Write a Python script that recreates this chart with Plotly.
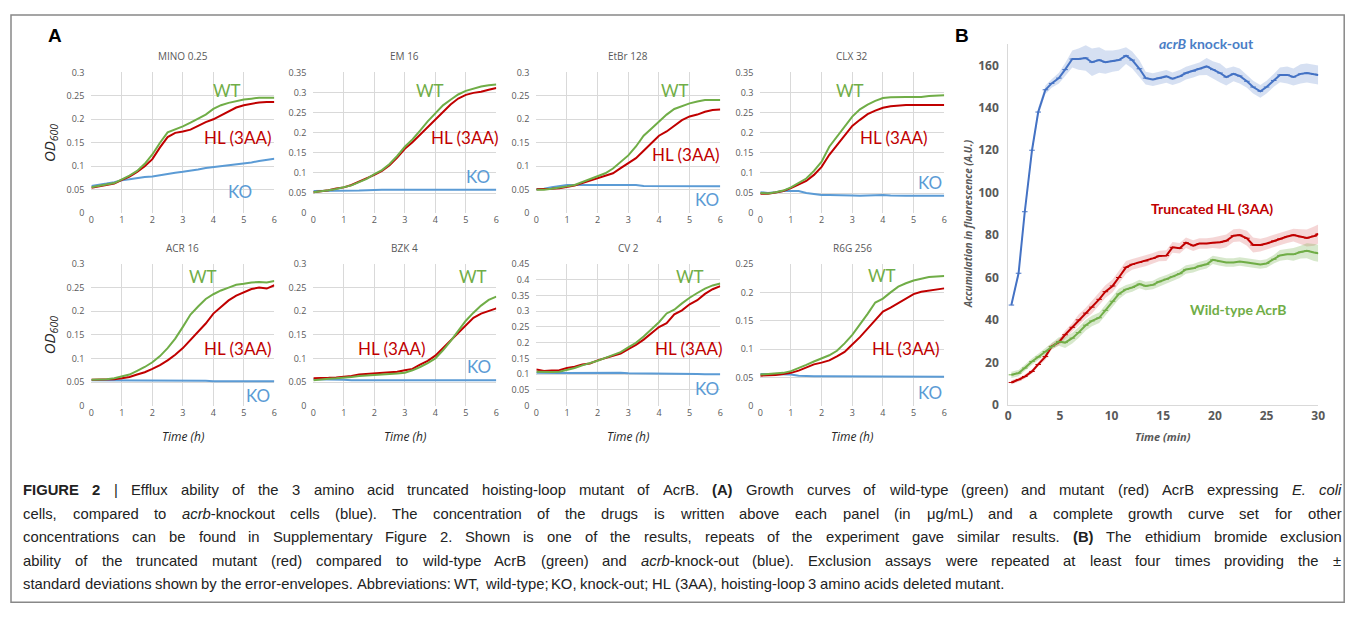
import plotly.graph_objects as go

# ---------------- Panel A data ----------------
hours = [0, 0.25, 0.5, 0.75, 1, 1.25, 1.5, 1.75, 2, 2.25, 2.5, 2.75, 3,
         3.25, 3.5, 3.75, 4, 4.25, 4.5, 4.75, 5, 5.25, 5.5, 5.75, 6]

drug_titles = ["MINO 0.25", "EM 16", "EtBr 128", "CLX 32",
               "ACR 16", "BZK 4", "CV 2", "R6G 256"]
y_max = [0.3, 0.35, 0.3, 0.35, 0.3, 0.3, 0.45, 0.25]

wt_mino = [0.055, 0.058, 0.061, 0.064, 0.072, 0.080, 0.090, 0.105, 0.125, 0.150, 0.172, 0.178, 0.185,
           0.193, 0.201, 0.210, 0.222, 0.230, 0.235, 0.239, 0.242, 0.244, 0.246, 0.246, 0.246]
hl_mino = [0.054, 0.057, 0.060, 0.063, 0.071, 0.078, 0.088, 0.100, 0.115, 0.140, 0.162, 0.171, 0.174,
           0.178, 0.186, 0.194, 0.200, 0.208, 0.217, 0.225, 0.230, 0.233, 0.236, 0.237, 0.237]
ko_mino = [0.058, 0.060, 0.063, 0.066, 0.070, 0.072, 0.075, 0.077, 0.078, 0.081, 0.084, 0.086, 0.088,
           0.090, 0.093, 0.096, 0.098, 0.100, 0.102, 0.103, 0.105, 0.108, 0.111, 0.114, 0.116]

wt_em = [0.052, 0.054, 0.057, 0.060, 0.064, 0.069, 0.077, 0.085, 0.097, 0.107, 0.122, 0.142, 0.165,
         0.183, 0.205, 0.228, 0.248, 0.268, 0.282, 0.295, 0.304, 0.310, 0.315, 0.318, 0.320]
hl_em = [0.052, 0.054, 0.057, 0.061, 0.064, 0.070, 0.078, 0.085, 0.095, 0.105, 0.119, 0.138, 0.160,
         0.176, 0.195, 0.215, 0.233, 0.252, 0.270, 0.285, 0.294, 0.299, 0.302, 0.307, 0.311]
ko_em = [0.055, 0.055, 0.056, 0.056, 0.056, 0.056, 0.056, 0.057, 0.058, 0.058, 0.058, 0.058, 0.058,
         0.058, 0.058, 0.058, 0.058, 0.058, 0.058, 0.058, 0.058, 0.058, 0.058, 0.058, 0.058]

wt_etbr = [0.050, 0.050, 0.052, 0.054, 0.057, 0.060, 0.066, 0.072, 0.078, 0.085, 0.095, 0.108, 0.123,
           0.142, 0.165, 0.180, 0.195, 0.210, 0.222, 0.228, 0.234, 0.238, 0.241, 0.241, 0.241]
hl_etbr = [0.051, 0.051, 0.052, 0.053, 0.056, 0.059, 0.064, 0.069, 0.074, 0.079, 0.085, 0.096, 0.107,
           0.117, 0.133, 0.150, 0.165, 0.174, 0.186, 0.198, 0.206, 0.210, 0.216, 0.220, 0.221]
ko_etbr = [0.051, 0.052, 0.055, 0.058, 0.060, 0.060, 0.060, 0.060, 0.060, 0.060, 0.060, 0.060, 0.060,
           0.060, 0.058, 0.058, 0.058, 0.058, 0.058, 0.058, 0.058, 0.057, 0.057, 0.057, 0.057]

wt_clx = [0.050, 0.049, 0.052, 0.056, 0.064, 0.074, 0.086, 0.105, 0.128, 0.165, 0.190, 0.218, 0.240,
          0.258, 0.270, 0.279, 0.286, 0.288, 0.289, 0.289, 0.289, 0.289, 0.291, 0.292, 0.293]
hl_clx = [0.048, 0.048, 0.051, 0.055, 0.062, 0.070, 0.080, 0.095, 0.115, 0.145, 0.170, 0.192, 0.217,
          0.232, 0.246, 0.255, 0.262, 0.266, 0.268, 0.269, 0.269, 0.269, 0.269, 0.269, 0.269]
ko_clx = [0.052, 0.050, 0.052, 0.055, 0.055, 0.055, 0.050, 0.047, 0.045, 0.045, 0.045, 0.045, 0.044,
          0.043, 0.044, 0.045, 0.045, 0.044, 0.043, 0.043, 0.043, 0.043, 0.043, 0.043, 0.043]

wt_acr = [0.055, 0.055, 0.056, 0.058, 0.062, 0.066, 0.074, 0.082, 0.092, 0.105, 0.122, 0.142, 0.167,
          0.193, 0.210, 0.226, 0.236, 0.244, 0.250, 0.256, 0.258, 0.261, 0.262, 0.261, 0.264]
hl_acr = [0.055, 0.055, 0.055, 0.056, 0.058, 0.061, 0.066, 0.071, 0.078, 0.086, 0.096, 0.108, 0.122,
          0.139, 0.155, 0.174, 0.195, 0.210, 0.223, 0.233, 0.240, 0.247, 0.250, 0.248, 0.255]
ko_acr = [0.054, 0.054, 0.054, 0.053, 0.053, 0.053, 0.053, 0.053, 0.053, 0.053, 0.053, 0.053, 0.053,
          0.053, 0.053, 0.053, 0.052, 0.052, 0.052, 0.052, 0.052, 0.052, 0.052, 0.052, 0.052]

wt_bzk = [0.054, 0.056, 0.057, 0.058, 0.059, 0.061, 0.063, 0.064, 0.065, 0.066, 0.066, 0.068, 0.070,
          0.075, 0.082, 0.090, 0.100, 0.117, 0.137, 0.158, 0.180, 0.197, 0.212, 0.224, 0.231]
hl_bzk = [0.058, 0.058, 0.059, 0.060, 0.061, 0.063, 0.066, 0.067, 0.068, 0.069, 0.070, 0.072, 0.075,
          0.078, 0.087, 0.095, 0.106, 0.122, 0.140, 0.156, 0.172, 0.186, 0.195, 0.201, 0.206]
ko_bzk = [0.056, 0.056, 0.056, 0.055, 0.055, 0.054, 0.054, 0.054, 0.054, 0.054, 0.054, 0.054, 0.054,
          0.054, 0.054, 0.054, 0.054, 0.054, 0.054, 0.054, 0.054, 0.054, 0.054, 0.054, 0.054]

wt_cv = [0.108, 0.107, 0.107, 0.108, 0.113, 0.120, 0.128, 0.135, 0.143, 0.152, 0.160, 0.170, 0.185,
         0.200, 0.220, 0.243, 0.265, 0.293, 0.305, 0.325, 0.343, 0.358, 0.372, 0.382, 0.388]
hl_cv = [0.115, 0.110, 0.112, 0.113, 0.120, 0.124, 0.131, 0.134, 0.144, 0.152, 0.158, 0.166, 0.180,
         0.193, 0.210, 0.230, 0.250, 0.262, 0.290, 0.303, 0.322, 0.335, 0.355, 0.370, 0.380]
ko_cv = [0.105, 0.104, 0.104, 0.104, 0.104, 0.104, 0.104, 0.104, 0.105, 0.106, 0.106, 0.105, 0.103,
         0.103, 0.103, 0.103, 0.103, 0.103, 0.102, 0.102, 0.102, 0.101, 0.100, 0.100, 0.100]

wt_r6g = [0.055, 0.056, 0.057, 0.058, 0.061, 0.066, 0.072, 0.078, 0.083, 0.089, 0.097, 0.110, 0.125,
          0.143, 0.162, 0.182, 0.189, 0.200, 0.210, 0.216, 0.221, 0.224, 0.227, 0.228, 0.229]
hl_r6g = [0.053, 0.053, 0.054, 0.056, 0.058, 0.062, 0.067, 0.073, 0.076, 0.080, 0.087, 0.095, 0.108,
          0.121, 0.136, 0.152, 0.166, 0.173, 0.181, 0.190, 0.197, 0.201, 0.203, 0.205, 0.207]
ko_r6g = [0.056, 0.056, 0.056, 0.055, 0.055, 0.053, 0.052, 0.052, 0.052, 0.052, 0.052, 0.052, 0.052,
          0.051, 0.051, 0.051, 0.051, 0.051, 0.051, 0.051, 0.051, 0.051, 0.051, 0.051, 0.051]

wt_all = [wt_mino, wt_em, wt_etbr, wt_clx, wt_acr, wt_bzk, wt_cv, wt_r6g]
hl_all = [hl_mino, hl_em, hl_etbr, hl_clx, hl_acr, hl_bzk, hl_cv, hl_r6g]
ko_all = [ko_mino, ko_em, ko_etbr, ko_clx, ko_acr, ko_bzk, ko_cv, ko_r6g]

# ---------------- Panel B data ----------------
minutes = [0.3, 1.0, 1.6, 2.3, 2.9, 3.6, 4.2, 4.9, 5.5, 6.2, 6.8, 7.5, 8.1, 8.8, 9.4, 10.1,
           10.7, 11.4, 12.0, 12.7, 13.3, 14.0, 14.6, 15.3, 15.9, 16.6, 17.2, 17.9, 18.5, 19.2,
           19.8, 20.5, 21.1, 21.8, 22.4, 23.1, 23.7, 24.4, 25.0, 25.7, 26.3, 27.0, 27.6, 28.3,
           28.9, 29.6, 30.0]
ko_fluo = [47, 62, 91, 120, 138, 148.5, 151.5, 154, 158, 163, 163, 163.5, 161.5, 162.5, 161.5, 162,
           162.5, 164.6, 162.5, 158.4, 154, 153.3, 154, 154.8, 153.7, 154.8, 156.4, 157.3, 158.4, 159.5,
           158, 156.4, 154.5, 156, 155, 152.5, 149.8, 147.8, 149.8, 152.9, 155.5, 155.5, 154.5, 156,
           156.4, 155.8, 155.5]
ko_sd = [1, 1.5, 2, 2, 2, 2, 2, 2.5, 3, 4, 5, 6, 6.5, 6, 5.5, 5,
         5, 4, 4, 4, 3, 3, 3, 3, 3, 3, 3, 3, 3, 4,
         4, 4.5, 4, 3.5, 3.5, 3, 3, 3, 3, 3, 3.5, 4, 4, 4.5,
         4.5, 4.5, 4.5]
hl_fluo = [10.5, 11.8, 13.3, 15.7, 19, 22.7, 27.5, 29.5, 33, 36.5, 40, 43.2, 46, 49.7, 53.3, 56,
           60, 64.8, 66.2, 67.1, 67.8, 69, 70.1, 70.3, 74.2, 73.8, 76.4, 75, 76, 76,
           76.4, 76.6, 77.3, 79.7, 80, 78.5, 75.3, 75.3, 76, 77.2, 78.2, 79.3, 80, 79.2,
           78.6, 79.5, 80.5]
hl_sd = [1, 1, 1, 1, 1, 1.5, 1.5, 1.5, 2, 2, 2.5, 2.5, 3, 3, 3, 3,
         3, 3, 2.5, 2.5, 2.5, 2.5, 2.5, 2.5, 2.5, 2.5, 2.5, 2.5, 2.5, 2.5,
         2.5, 3, 3, 3, 3, 3.5, 3.5, 3, 3, 3, 3, 3, 3, 3.5,
         4, 4.5, 4.5]
wt_fluo = [14.1, 14.9, 17.3, 20.4, 22.5, 25.1, 27.5, 29.8, 29.3, 31.4, 34, 37.5, 39.5, 41, 44.5, 48.8,
           52.2, 54.4, 55.3, 56.9, 56, 56.5, 58, 59.2, 60.4, 61.8, 63.8, 64.3, 65.4, 66.2,
           68.3, 67.5, 67.1, 67.1, 67.5, 67.1, 66.6, 66.1, 66.6, 68.6, 70.4, 70.9, 70.9, 72,
           72.6, 71.8, 71.4]
wt_sd = [1.5, 1.5, 1.5, 1.5, 1.5, 1.5, 1.5, 2, 2.5, 2.5, 2.5, 2.5, 2.5, 2.5, 2.5, 2.5,
         2.5, 2, 2, 2, 2, 2, 2, 2, 2, 2, 2, 2, 2, 2,
         2, 2, 2, 2, 2, 2, 2, 2, 2, 2, 2.5, 2.5, 3, 3,
         3.5, 4, 4]

caption_lines = [
    "<b>FIGURE 2</b> | Efflux ability of the 3 amino acid truncated hoisting-loop mutant of AcrB. "
    "<b>(A)</b> Growth curves of wild-type (green) and mutant (red) AcrB expressing <i>E. coli</i>",
    "cells, compared to <i>acrb</i>-knockout cells (blue). The concentration of the drugs is written "
    "above each panel (in μg/mL) and a complete growth curve set for other",
    "concentrations can be found in Supplementary Figure 2. Shown is one of the results, repeats of "
    "the experiment gave similar results. <b>(B)</b> The ethidium bromide exclusion",
    "ability of the truncated mutant (red) compared to wild-type AcrB (green) and <i>acrb</i>-knock-out "
    "(blue). Exclusion assays were repeated at least four times providing the ±",
    "standard deviations shown by the error-envelopes. Abbreviations: WT, wild-type; KO, knock-out; "
    "HL (3AA), hoisting-loop 3 amino acids deleted mutant.",
]

# ---------------- styling / geometry ----------------
GREEN = "#70AD47"
RED = "#C00000"
BLUE = "#5B9BD5"
BLUE_B = "#4472C4"
GRID = "#D9D9D9"
TICK = "#595959"
OFF = 8                      # html body margin
W, H = 1344, 603
# measured capture mapping (page px -> picture px): pic = S * page + B
SX, BX = 0.9927, 2.67
SY, BY = 0.977, 6.7


def px_x(p):
    page = (p - BX) / SX
    return min(max((page - OFF) / W, 0.0), 1.0)


def px_y(p):
    page = (p - BY) / SY
    return min(max(1 - (page - OFF) / H, 0.0), 1.0)


def note(text, x, y, size, color, family="Open Sans", angle=0, **kw):
    return dict(text=text, x=px_x(x), y=px_y(y), xref="paper", yref="paper",
                xanchor="center", yanchor="middle", showarrow=False, textangle=angle,
                font=dict(size=size, color=color, family=family), **kw)


x_dom_px = [(91, 274), (313, 496), (536, 720), (760, 944)]
row_dom_px = [(72, 213), (264, 406)]

# label placement per panel (data coords): WT, HL, KO
label_pos = [
    [(4.45, 0.262), (4.8, 0.162), (4.88, 0.046)],
    [(3.84, 0.305), (4.98, 0.189), (5.4, 0.092)],
    [(4.52, 0.262), (4.87, 0.124), (5.56, 0.030)],
    [(2.94, 0.305), (4.36, 0.189), (5.55, 0.076)],
    [(3.67, 0.274), (4.81, 0.121), (5.45, 0.022)],
    [(5.24, 0.274), (2.58, 0.121), (5.42, 0.082)],
    [(5.0, 0.410), (4.98, 0.182), (5.56, 0.054)],
    [(3.98, 0.229), (4.74, 0.101), (5.53, 0.023)],
]

fig = go.Figure()
layout = {}
annotations = []

for i in range(8):
    n = i + 1
    r, c = divmod(i, 4)
    xs = "x" if n == 1 else f"x{n}"
    ys = "y" if n == 1 else f"y{n}"
    for vals, col in ((ko_all[i], BLUE), (hl_all[i], RED), (wt_all[i], GREEN)):
        fig.add_trace(go.Scatter(x=hours, y=vals, mode="lines", xaxis=xs, yaxis=ys,
                                 line=dict(color=col, width=2), showlegend=False,
                                 hoverinfo="skip"))
    x0, x1 = x_dom_px[c]
    yt, yb = row_dom_px[r]
    layout[f"xaxis{'' if n == 1 else n}"] = dict(
        domain=[px_x(x0), px_x(x1)], anchor=ys, range=[0, 6], dtick=1,
        showgrid=True, gridcolor=GRID, gridwidth=1, zeroline=False,
        showline=False, ticks="", tickfont=dict(size=9, color=TICK, family="Open Sans"),
        fixedrange=True)
    layout[f"yaxis{'' if n == 1 else n}"] = dict(
        domain=[px_y(yb), px_y(yt)], anchor=xs, range=[0, y_max[i]], dtick=0.05,
        showgrid=True, gridcolor=GRID, gridwidth=1, zeroline=False,
        showline=False, ticks="", tickfont=dict(size=9, color=TICK, family="Open Sans"),
        ticklabelstandoff=6, fixedrange=True)
    annotations.append(note(drug_titles[i], (x0 + x1) / 2, yt - 16, 10, TICK))
    for (lx, ly), txt, col in zip(label_pos[i], ["WT", "HL (3AA)", "KO"], [GREEN, RED, BLUE]):
        annotations.append(dict(text=txt, x=lx, y=ly, xref=xs, yref=ys, showarrow=False,
                                xanchor="center", yanchor="middle",
                                font=dict(size=17, color=col, family="Lato")))
    if c == 0:
        annotations.append(note("<i>OD</i><sub><i>600</i></sub>", 49, (yt + yb) / 2, 15,
                                "#262626", angle=-90))
    if r == 1:
        annotations.append(note("<i>Time (h)</i>", (x0 + x1) / 2, 437, 12, "#262626"))

# ---------------- Panel B ----------------
def band(xv, m, s, col):
    up = [a + b for a, b in zip(m, s)]
    lo = [a - b for a, b in zip(m, s)]
    fig.add_trace(go.Scatter(x=xv + xv[::-1], y=up + lo[::-1], fill="toself",
                             fillcolor=col, line=dict(width=0), mode="lines",
                             xaxis="x9", yaxis="y9", showlegend=False, hoverinfo="skip"))


band(minutes, ko_fluo, ko_sd, "rgba(68,114,196,0.22)")
band(minutes, hl_fluo, hl_sd, "rgba(192,0,0,0.16)")
band(minutes, wt_fluo, wt_sd, "rgba(112,173,71,0.28)")
for vals, col in ((ko_fluo, BLUE_B), (hl_fluo, RED), (wt_fluo, GREEN)):
    fig.add_trace(go.Scatter(x=minutes, y=vals, mode="lines+markers", xaxis="x9", yaxis="y9",
                             line=dict(color=col, width=2),
                             marker=dict(symbol="line-ew", size=4,
                                         line=dict(color=col, width=1)),
                             showlegend=False, hoverinfo="skip"))

layout["xaxis9"] = dict(domain=[px_x(1008), px_x(1318)], anchor="y9", range=[0, 30], dtick=5,
                        showgrid=False, zeroline=False, showline=True, linecolor=GRID,
                        ticks="", tickfont=dict(size=12, color=TICK, family="Open Sans",
                                                weight="bold"),
                        fixedrange=True)
layout["yaxis9"] = dict(domain=[px_y(405), px_y(405 - 170 * 2.125)], anchor="x9",
                        range=[0, 170], tickvals=[0, 20, 40, 60, 80, 100, 120, 140, 160],
                        showgrid=False, zeroline=False, showline=True, linecolor=GRID,
                        ticks="", tickfont=dict(size=12, color=TICK, family="Open Sans",
                                                weight="bold"),
                        ticklabelstandoff=6, fixedrange=True)

annotations += [
    note("<b><i>Time (min)</i></b>", 1163, 437, 11, TICK),
    note("<b><i>Accumulation in fluorescence (A.U.)</i></b>", 968, 224, 10, TICK, angle=-90),
    note("<b><i>acrB</i> knock-out</b>", 1206, 43, 14, "#4A7EC6", family="Lato"),
    note("<b>Truncated HL (3AA)</b>", 1212, 208, 14, RED, family="Lato"),
    note("<b>Wild-type AcrB</b>", 1238, 310, 14, GREEN, family="Lato"),
    note("<b>A</b>", 55, 35, 19, "black", family="Liberation Sans"),
    note("<b>B</b>", 962, 35, 19, "black", family="Liberation Sans"),
]

# ---------------- caption (justified word by word) ----------------
REG = {" ": 278, "!": 278, "(": 333, ")": 333, ",": 278, "-": 333, ".": 278, "/": 278,
       ":": 278, ";": 278, "|": 260, "±": 584, "μ": 576,
       "A": 667, "B": 667, "C": 722, "D": 722, "E": 667, "F": 611, "G": 778, "H": 722,
       "I": 278, "J": 500, "K": 667, "L": 556, "M": 833, "N": 722, "O": 778, "P": 667,
       "Q": 778, "R": 722, "S": 667, "T": 611, "U": 722, "V": 667, "W": 944, "X": 667,
       "Y": 667, "Z": 611,
       "a": 556, "b": 556, "c": 500, "d": 556, "e": 556, "f": 278, "g": 556, "h": 556,
       "i": 222, "j": 222, "k": 500, "l": 222, "m": 833, "n": 556, "o": 556, "p": 556,
       "q": 556, "r": 333, "s": 500, "t": 278, "u": 556, "v": 500, "w": 722, "x": 500,
       "y": 500, "z": 500}
BOLD = dict(REG)
BOLD.update({"A": 722, "B": 722, "F": 611, "G": 778, "I": 278, "R": 722, "U": 722, "E": 667})

CAP_SIZE = 14.8
CAP_LEFT, CAP_RIGHT = 22, 1340
caption_y = [490, 514, 538, 562, 585]


def tokenize(line):
    out = []
    bold = ital = False
    for w in line.split(" "):
        prefix = ("<b>" if bold else "") + ("<i>" if ital else "")
        width = 0.0
        k = 0
        while k < len(w):
            if w.startswith("<b>", k):
                bold = True; k += 3; continue
            if w.startswith("</b>", k):
                bold = False; k += 4; continue
            if w.startswith("<i>", k):
                ital = True; k += 3; continue
            if w.startswith("</i>", k):
                ital = False; k += 4; continue
            ch = w[k]
            width += (BOLD if bold else REG).get(ch, 556)
            k += 1
        suffix = ("</i>" if ital else "") + ("</b>" if bold else "")
        out.append((prefix + w + suffix, width * CAP_SIZE * SX / 1000.0))
    return out


for li, (txt, yy) in enumerate(zip(caption_lines, caption_y)):
    toks = tokenize(txt)
    total = sum(t[1] for t in toks)
    if li < len(caption_lines) - 1:
        gap = (CAP_RIGHT - CAP_LEFT - total) / (len(toks) - 1)
    else:
        gap = 278 * CAP_SIZE * SX / 1000.0
    xpos = CAP_LEFT
    for word, wd in toks:
        annotations.append(dict(text=word, x=px_x(xpos), y=px_y(yy), xref="paper", yref="paper",
                                xanchor="left", yanchor="middle", showarrow=False,
                                borderpad=0,
                                font=dict(size=CAP_SIZE, color="#222222",
                                          family="Liberation Sans")))
        xpos += wd + gap

fig.update_layout(
    width=W, height=H, margin=dict(l=0, r=0, t=0, b=0),
    paper_bgcolor="white", plot_bgcolor="white",
    annotations=annotations,
    shapes=[dict(type="rect", xref="paper", yref="paper", x0=px_x(8), x1=0.9994,
                 y0=0.0012, y1=px_y(7.5), line=dict(color="#888888", width=1.5))],
    **layout,
)

fig.write_html("out.html")
